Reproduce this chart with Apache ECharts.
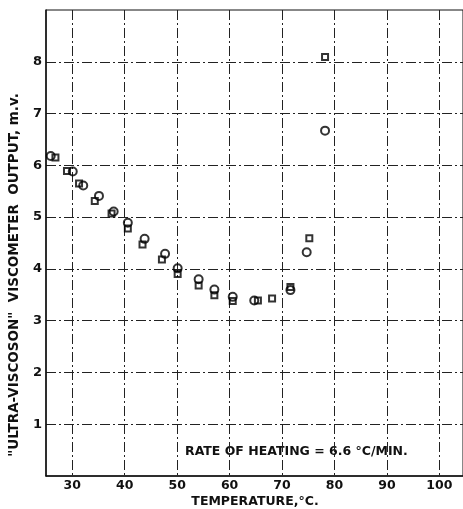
<!DOCTYPE html>
<html>
<head>
<meta charset="utf-8">
<script src="https://cdn.jsdelivr.net/npm/echarts@6/dist/echarts.min.js"></script>
<style>html,body{margin:0;padding:0;background:#fff}#c{width:463px;height:509px}</style>
</head>
<body>
<div id="c"></div>
<script>
// Data
var circleT = [25.9, 30.1, 32.1, 35.1, 37.9, 40.6, 43.8, 47.7, 50.1, 54.1, 57.1, 60.6, 64.7, 71.6, 74.7, 78.2];
var circleV = [6.18, 5.88, 5.61, 5.41, 5.11, 4.89, 4.58, 4.29, 4.01, 3.80, 3.60, 3.46, 3.39, 3.59, 4.32, 6.67];
var squareT = [26.8, 29.0, 31.3, 34.3, 37.5, 40.6, 43.4, 47.1, 50.1, 54.1, 57.1, 60.6, 65.4, 68.1, 71.6, 75.2, 78.2];
var squareV = [6.15, 5.89, 5.65, 5.31, 5.07, 4.78, 4.47, 4.18, 3.90, 3.68, 3.49, 3.38, 3.39, 3.43, 3.65, 4.59, 8.09];
var xTicks = [30, 40, 50, 60, 70, 80, 90, 100];
var yTicks = [1, 2, 3, 4, 5, 6, 7, 8];
var xTitle = 'TEMPERATURE,°C.';
var yTitle = '"ULTRA-VISCOSON"  VISCOMETER  OUTPUT, m.v.';
var note = 'RATE OF HEATING = 6.6 °C/MIN.';

function pairs(xs, ys){ return xs.map(function(x,i){ return [x, ys[i]]; }); }

var gridLine = { show: true, lineStyle: { color: '#222', width: 1, type: [10, 3, 2, 3] } };
var labelFont = { color: '#111', fontFamily: 'DejaVu Sans', fontWeight: 'bold', fontSize: 12.5 };

var chart = echarts.init(document.getElementById('c'));
chart.setOption({
  animation: false,
  backgroundColor: '#fff',
  grid: { left: 46, right: 0, top: 10, bottom: 33, show: true, borderColor: '#111', borderWidth: 1, outerBoundsMode: 'none', containLabel: false },
  xAxis: {
    type: 'value', min: 25, max: 104.5,
    axisLine: { show: true, lineStyle: { color: '#111', width: 1.5 } },
    axisTick: { show: false, customValues: xTicks },
    axisLabel: Object.assign({ customValues: xTicks, margin: 3 }, labelFont),
    splitLine: gridLine
  },
  yAxis: {
    type: 'value', min: 0, max: 9,
    axisLine: { show: true, lineStyle: { color: '#111', width: 1.5 } },
    axisTick: { show: false, customValues: yTicks },
    axisLabel: Object.assign({ customValues: yTicks, margin: 4 }, labelFont, { fontSize: 13 }),
    splitLine: gridLine
  },
  graphic: [
    { type: 'text', x: 14, y: 275, rotation: Math.PI / 2, style: { text: yTitle, fill: '#111', font: 'bold 13.5px "DejaVu Sans"', textAlign: 'center', textVerticalAlign: 'middle' } },
    { type: 'text', x: 255, y: 502, style: { text: xTitle, fill: '#111', font: 'bold 12.5px "DejaVu Sans"', textAlign: 'center', textVerticalAlign: 'middle' } },
    { type: 'text', left: 185, top: 445, style: { text: note, fill: '#111', font: 'bold 12.5px "DejaVu Sans"' } }
  ],
  series: [
    { type: 'scatter', name: 'circle', data: pairs(circleT, circleV), symbol: 'circle', symbolSize: 8,
      itemStyle: { color: 'rgba(255,255,255,0)', borderColor: '#000', borderWidth: 2 } },
    { type: 'scatter', name: 'square', data: pairs(squareT, squareV), symbol: 'rect', symbolSize: 6,
      itemStyle: { color: 'rgba(255,255,255,0)', borderColor: '#000', borderWidth: 2 } }
  ]
});
</script>
</body>
</html>
